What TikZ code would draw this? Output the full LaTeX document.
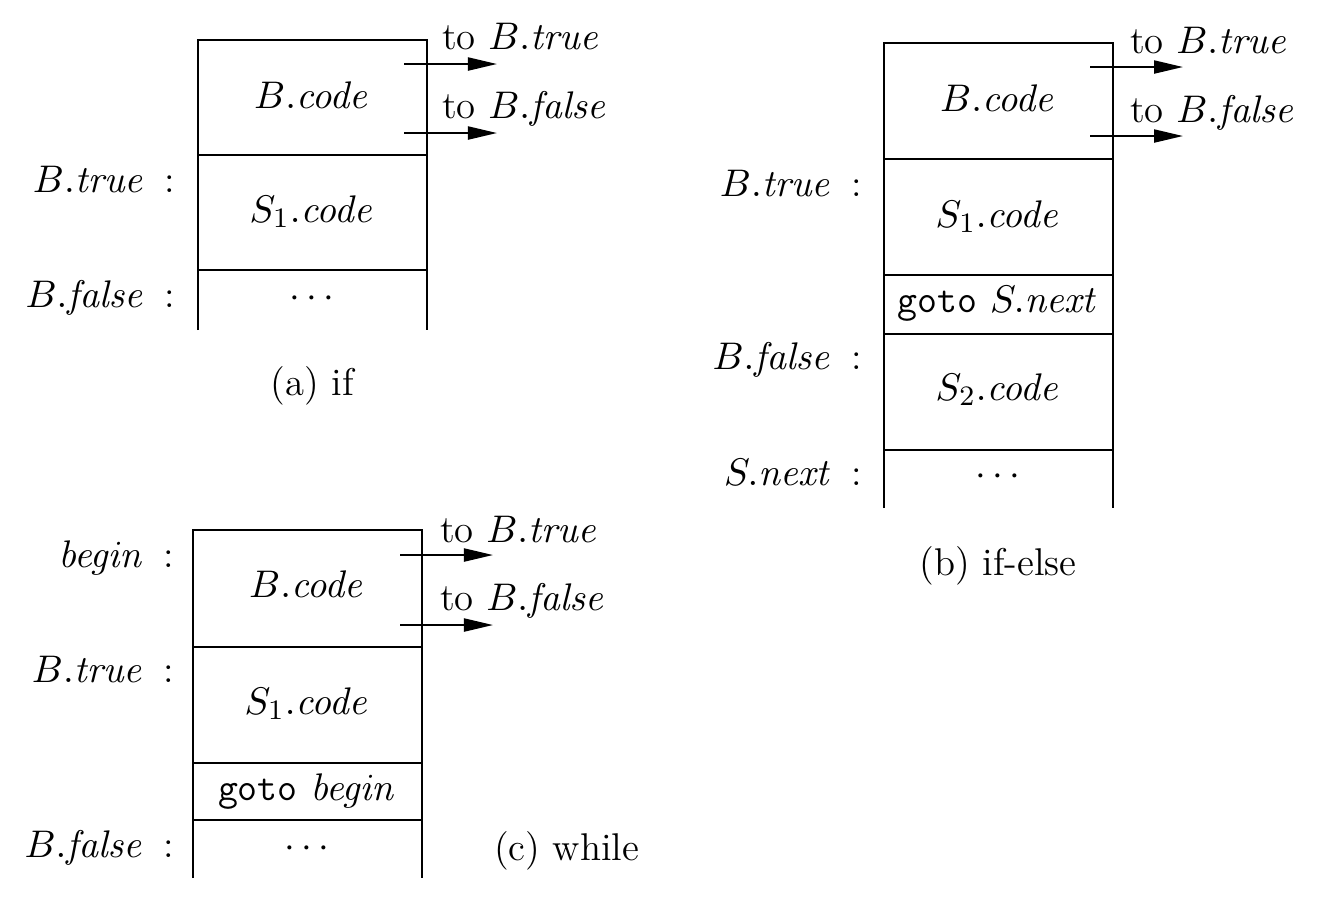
\documentclass[tikz,border=0pt]{standalone}
\usetikzlibrary{arrows.meta}
\begin{document}
\begin{tikzpicture}[x=0.01cm,y=-0.01cm,line width=0.6pt,
    font=\fontsize{11}{13}\selectfont,
    every node/.style={anchor=base,inner sep=0pt},
    lab/.style={anchor=base east},
    tolab/.style={anchor=base west},
    jump/.style={-{Triangle[length=2.9mm,width=1.3mm]}}]
  \useasboundingbox (0,0) rectangle (1319,917);
  % (a) if
  \draw (198,330) -- (198,40) -- (427,40) -- (427,330);
  \draw (198,155) -- (427,155);
  \draw (198,270) -- (427,270);
  \draw
    (312,108) node (abcode){$B.\mathit{code}$}
    (312,222) node (as1){$S_1.\mathit{code}$}
    (312,307) node (arest){$\cdots$}
    (176,192) node[lab] (atrue){$B.\mathit{true}$\enspace:}
    (176,307) node[lab] (afalse){$B.\mathit{false}$\enspace:}
    (441,49) node[tolab] (atotrue){to $B.\mathit{true}$}
    (441,118) node[tolab] (atofalse){to $B.\mathit{false}$}
    (312,395) node (acap){(a) if};
  \coordinate (at0) at (404,64);
  \coordinate (at1) at (497,64);
  \coordinate (af0) at (404,133);
  \coordinate (af1) at (497,133);
  \begin{scope}[jump]
    \draw (at0) to (at1);
    \draw (af0) to (af1);
  \end{scope}
  % (b) if-else
  \draw (884,508) -- (884,43) -- (1113,43) -- (1113,508);
  \draw (884,159) -- (1113,159);
  \draw (884,275) -- (1113,275);
  \draw (884,334) -- (1113,334);
  \draw (884,450) -- (1113,450);
  \draw
    (998,111) node (bbcode){$B.\mathit{code}$}
    (998,227) node (bs1){$S_1.\mathit{code}$}
    (998,312) node (bgoto){\texttt{goto} $S.\mathit{next}$}
    (998,400) node (bs2){$S_2.\mathit{code}$}
    (998,485) node (brest){$\cdots$}
    (863,196) node[lab] (btrue){$B.\mathit{true}$\enspace:}
    (863,369) node[lab] (bfalse){$B.\mathit{false}$\enspace:}
    (863,485) node[lab] (bnext){$S.\mathit{next}$\enspace:}
    (1129,53) node[tolab] (btotrue){to $B.\mathit{true}$}
    (1129,122) node[tolab] (btofalse){to $B.\mathit{false}$}
    (998,575) node (bcap){(b) if-else};
  \coordinate (bt0) at (1090,67);
  \coordinate (bt1) at (1183,67);
  \coordinate (bf0) at (1090,136);
  \coordinate (bf1) at (1183,136);
  \begin{scope}[jump]
    \draw (bt0) to (bt1);
    \draw (bf0) to (bf1);
  \end{scope}
  % (c) while
  \draw (193,878) -- (193,530) -- (422,530) -- (422,878);
  \draw (193,647) -- (422,647);
  \draw (193,763) -- (422,763);
  \draw (193,820) -- (422,820);
  \draw
    (307,597) node (cbcode){$B.\mathit{code}$}
    (307,714) node (cs1){$S_1.\mathit{code}$}
    (307,800) node (cgoto){\texttt{goto} $\mathit{begin}$}
    (307,857) node (crest){$\cdots$}
    (175,567) node[lab] (cbegin){$\mathit{begin}$\enspace:}
    (175,682) node[lab] (ctrue){$B.\mathit{true}$\enspace:}
    (175,857) node[lab] (cfalse){$B.\mathit{false}$\enspace:}
    (439,542) node[tolab] (ctotrue){to $B.\mathit{true}$}
    (439,610) node[tolab] (ctofalse){to $B.\mathit{false}$}
    (493,860) node[tolab] (ccap){(c) while};
  \coordinate (ct0) at (400,555);
  \coordinate (ct1) at (493,555);
  \coordinate (cf0) at (400,625);
  \coordinate (cf1) at (493,625);
  \begin{scope}[jump]
    \draw (ct0) to (ct1);
    \draw (cf0) to (cf1);
  \end{scope}
\end{tikzpicture}
\end{document}
